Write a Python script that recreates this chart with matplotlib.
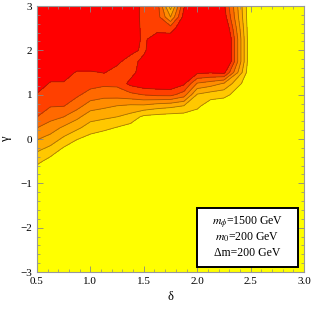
import numpy as np
import matplotlib
matplotlib.use("Agg")
import matplotlib.pyplot as plt
from matplotlib.patches import Rectangle

# grid of the scan (delta across, gamma down the rows)
delta = [0.5, 0.625, 0.75, 0.875, 1.0, 1.125, 1.25, 1.375, 1.5, 1.625,
         1.75, 1.875, 2.0, 2.125, 2.25, 2.5, 3.0]
gamma = [-3, -1, -0.75, -0.5, -0.25, 0, 0.25, 0.5, 0.75, 1.0, 1.25, 1.5,
         1.75, 2.0, 2.25, 2.5, 2.75, 3.0]

# contour value on the grid, one row per gamma
z = [
    [0] * 17,
    [0] * 17,
    [0.36, 0, 0, 0, 0, 0, 0, 0, 0, 0, 0, 0, 0, 0, 0, 0, 0],
    [1.3, 0.6, 0, 0, 0, 0, 0, 0, 0, 0, 0, 0, 0, 0, 0, 0, 0],
    [2.15, 1.6, 0.72, 0, 0, 0, 0, 0, 0, 0, 0, 0, 0, 0, 0, 0, 0],
    [3.07, 2.6, 1.78, 1.05, 0.6, 0.28, 0, 0, 0, 0, 0, 0, 0, 0, 0, 0, 0],
    [4.0, 3.5, 2.8, 2.2, 1.5, 1.26, 0.92, 0.6, 0, 0, 0, 0, 0, 0, 0, 0, 0],
    [5.0, 4.33, 4.0, 3.25, 2.4, 2.2, 2.0, 1.6, 0.76, 0.6, 0.5, 0.48, 0.4, 0, 0, 0, 0],
    [5.45, 5.08, 5.05, 4.4, 3.5, 3.25, 3.0, 2.83, 2.83, 2.5, 2.3, 2.0, 1.26, 0.4, 0.3, 0, 0],
    [5.89, 5.48, 5.46, 5.17, 4.6, 4.36, 4.44, 4.71, 5.05, 5.25, 5.3, 4.5, 1.9, 1.5, 1.3, 0, 0],
    [6.76, 5.87, 5.87, 5.58, 5.38, 5.22, 5.25, 6.3, 6.7, 6.75, 6.8, 6.2, 3.9, 3.5, 2.9, 0, 0],
    [7, 6.68, 6.68, 5.85, 5.85, 6.05, 5.67, 5.6, 6.6, 7, 7, 7, 6.24, 6.1, 6.3, 0, 0],
    [7, 7, 7, 7, 7, 7, 6.2, 5.6, 6.3, 7, 7, 7, 7, 7, 8.3, 0, 0],
    [7, 7, 7, 7, 7, 7, 7, 6.3, 5.8, 7, 7, 7, 7, 7, 8.3, 0, 0],
    [7, 7, 7, 7, 7, 7, 7, 6.6, 5.8, 6.6, 6.6, 7, 7, 7, 8.3, 0, 0],
    [7, 7, 7, 7, 7, 7, 7, 7, 5.6, 5.6, 5.5, 6.8, 7, 7, 7.5, 0, 0],
    [7, 7, 7, 7, 7, 7, 7, 7, 5.5, 5.5, 3.0, 6.4, 7, 7, 6.6, 0, 0],
    [7, 7, 7, 7, 7, 7, 7, 7, 5.5, 5.5, 1.5, 5.9, 7, 7, 6.2, 0, 0],
]

levels = [-1, 1, 2, 3, 4, 5, 6, 10]
colors = ["#ffff00", "#ffc800", "#ffaa00", "#ff8c00", "#ff6900", "#ff4000", "#ff0000"]

legend_lines = ["$m_{\\phi}$=1500 GeV", "$m_0$=200 GeV", "\u0394m=200 GeV"]

plt.rcParams["font.family"] = ["Liberation Serif", "DejaVu Serif"]
plt.rcParams["mathtext.fontset"] = "stix"

fig = plt.figure(figsize=(3.12, 3.10), dpi=100)
ax = fig.add_axes([37 / 312, 1 - 272 / 310, 267 / 312, 266 / 310])

X, Y = np.meshgrid(delta, gamma)
Z = np.array(z)
ax.contourf(X, Y, Z, levels=levels, colors=colors)
ax.contour(X, Y, Z, levels=levels[1:-1], colors="#4a3a00", linewidths=0.6, alpha=0.5)

ax.set_xlim(0.5, 3.0)
ax.set_ylim(-3, 3)
ax.set_xticks([0.5, 1.0, 1.5, 2.0, 2.5, 3.0])
ax.set_xticks(np.arange(0.5, 3.01, 0.1), minor=True)
ax.set_yticks([-3, -2, -1, 0, 1, 2, 3])
ax.set_yticks(np.arange(-3, 3.01, 0.2), minor=True)
ax.set_yticklabels(["\u22123", "\u22122", "\u22121", "0", "1", "2", "3"])
ax.tick_params(which="both", direction="in", top=True, right=True,
               color="#888888", labelsize=8)
ax.tick_params(which="major", length=4, width=0.6)
ax.tick_params(which="minor", length=2, width=0.5)
for s in ax.spines.values():
    s.set_color("#999999")
    s.set_linewidth(0.8)

ax.set_xlabel("\u03b4", fontsize=9, labelpad=4)
ax.set_ylabel("\u03b3", fontsize=9, labelpad=6, rotation=90)

# legend box
bx0, by0 = (197 - 37) / 267, (272 - 267) / 266
bw, bh = 101 / 267, 59 / 266
ax.add_patch(Rectangle((bx0, by0), bw, bh, transform=ax.transAxes,
                       fc="white", ec="black", lw=1.4, zorder=5))
for i, line in enumerate(legend_lines):
    ax.text(bx0 + bw / 2, by0 + bh / 2 + (1 - i) * 15 / 266, line,
            transform=ax.transAxes, ha="center", va="center",
            fontsize=8.5, zorder=6)

fig.savefig("out.png", dpi=100)
